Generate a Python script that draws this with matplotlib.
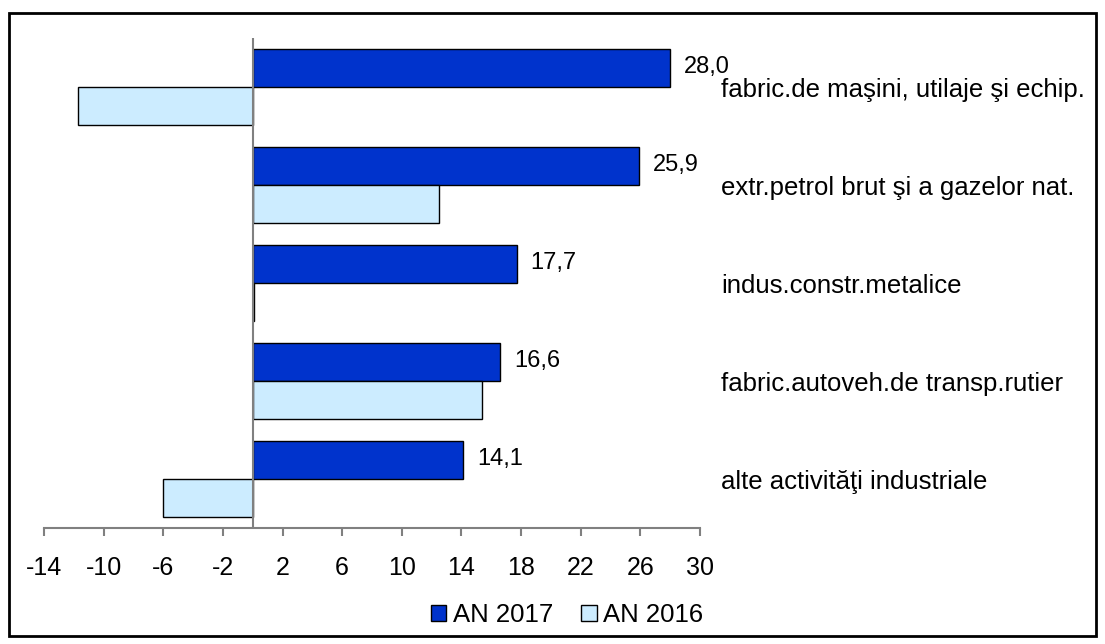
import matplotlib.pyplot as plt
from matplotlib.patches import Patch, Rectangle
import numpy as np

plt.rcParams['font.family'] = ['Liberation Sans', 'DejaVu Sans']

categories = ['fabric.de maşini, utilaje şi echip.',
              'extr.petrol brut şi a gazelor nat.',
              'indus.constr.metalice',
              'fabric.autoveh.de transp.rutier',
              'alte activităţi industriale']
an_2017 = [28.0, 25.9, 17.7, 16.6, 14.1]
an_2016 = [-11.7, 12.5, 0.1, 15.4, -6.0]
xticks = [-14, -10, -6, -2, 2, 6, 10, 14, 18, 22, 26, 30]

fig = plt.figure(figsize=(11.05, 6.44), dpi=100)
ax = fig.add_axes([44/1105, 1 - 528/644, 656/1105, 490/644])

y = np.arange(len(categories))
h = 0.39
ax.barh(y - h/2, an_2017, height=h, color='#0033CC', edgecolor='black', linewidth=1, label='AN 2017', zorder=2)
ax.barh(y + h/2, an_2016, height=h, color='#CCECFF', edgecolor='black', linewidth=1, label='AN 2016', zorder=2)

# value labels only for 2017
for yi, v in zip(y, an_2017):
    ax.annotate(f'{v:.1f}'.replace('.', ','), (v, yi - h/2), xytext=(10, 1),
                textcoords='offset points', ha='left', va='center', fontsize=17)

for yi, c in zip(y, categories):
    ax.text(31.4, yi + 0.03, c, ha='left', va='center', fontsize=18.5, clip_on=False)

ax.axvline(0, color='#808080', lw=1.5, zorder=3)
ax.set_xlim(-14, 30)
ax.set_ylim(len(categories) - 0.5, -0.5)
ax.set_xticks(xticks)
ax.set_xticklabels([str(t) for t in xticks], fontsize=18)
ax.set_yticks([])
for s in ['top', 'right', 'left']:
    ax.spines[s].set_visible(False)
ax.spines['bottom'].set_color('#808080')
ax.spines['bottom'].set_linewidth(1.5)
ax.tick_params(axis='x', colors='#808080', length=6, width=1.5, labelcolor='black', pad=14)

handles = [Patch(facecolor='#0033CC', edgecolor='black', label='AN 2017'),
           Patch(facecolor='#CCECFF', edgecolor='black', label='AN 2016')]
fig.legend(handles=handles, loc='center', bbox_to_anchor=(567/1105, 1 - 615/644), ncol=2,
           frameon=False, fontsize=18.5, handlelength=0.6, handleheight=0.6,
           handletextpad=0.25, columnspacing=1.1, borderpad=0)

fig.add_artist(Rectangle((9/1105, 1 - 636/644), 1087/1105, 623/644, transform=fig.transFigure,
                         fill=False, edgecolor='black', lw=2))

fig.savefig('out.png', dpi=100)
